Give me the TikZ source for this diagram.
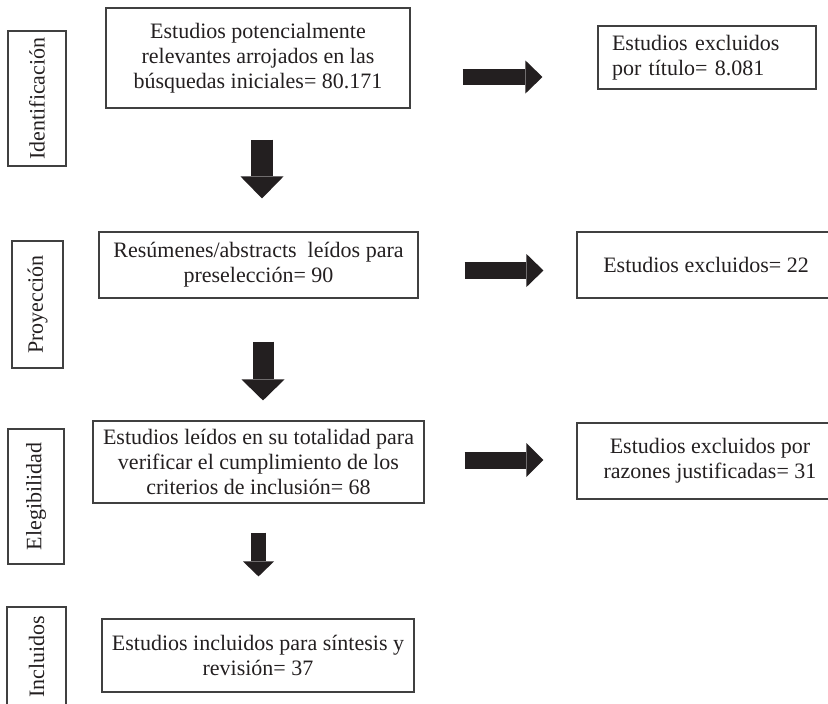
\documentclass[tikz,border=0pt]{standalone}
\usepackage{fontspec}
\setmainfont{Liberation Serif}
\usetikzlibrary{arrows.meta}
\definecolor{ink}{HTML}{231F20}

\begin{document}
\begin{tikzpicture}[
x=1pt, y=-1pt,
box/.style={draw=black!75, line width=1.1pt, align=center, inner sep=0pt, text=ink, font=\fontsize{22}{25}\selectfont},
phase/.style={box, rotate=90},
blockarr/.style n args={3}{ink, line width=#1, -{Triangle[length=#3 0 0, width=#2 0 0, line width=0pt]}}
]
\path[use as bounding box] (0,0) rectangle (828,704);
\clip (0,0) rectangle (828,704);

% phases
\node[phase, minimum width=135pt, minimum height=58pt] (ident) at (37,98.5) {Identificación};
\node[phase, minimum width=127pt, minimum height=51pt] (proy) at (37.5,304.5) {Proyección};
\node[phase, minimum width=135pt, minimum height=56pt] (eleg) at (36,496.5) {Elegibilidad};
\node[phase, minimum width=99pt, minimum height=59pt] (incl) at (36.5,656.5) {Incluidos};

% main flow
\node[box, minimum width=304pt, minimum height=100pt] (busq) at (258,58) {Estudios potencialmente\\relevantes arrojados en las\\búsquedas iniciales= 80.171};
\node[box, minimum width=319pt, minimum height=66pt] (resum) at (258.5,265) {Resúmenes/abstracts\ \ leídos para\\preselección= 90};
\node[box, minimum width=331pt, minimum height=82pt] (leidos) at (258.5,462) {Estudios leídos en su totalidad para\\verificar el cumplimiento de los\\criterios de inclusión= 68};
\node[box, minimum width=312pt, minimum height=73pt] (incluidos) at (258,655.5) {Estudios incluidos para síntesis y\\revisión= 37};

% exclusions
\node[box, align=left, text width=190pt, minimum width=218pt, minimum height=63pt] (exTitulo) at (707,57.5) {Estudios excluidos\\por título= 8.081};
\node[box, minimum width=258pt, minimum height=66pt] (exResum) at (706,265) {Estudios excluidos= 22};
\node[box, minimum width=266pt, minimum height=76pt] (exRazon) at (710,461) {Estudios excluidos por\\razones justificadas= 31};

\draw[blockarr={22pt}{43pt}{22pt}, shorten <=31pt, shorten >=33pt] ([xshift=4pt]busq.south) -- ([xshift=4pt]busq.south |- resum.north);
\draw[blockarr={21pt}{43pt}{21pt}, shorten <=43pt, shorten >=20pt] ([xshift=4.5pt]resum.south) -- ([xshift=4.5pt]resum.south |- leidos.north);
\draw[blockarr={15pt}{31pt}{15pt}, shorten <=29pt, shorten >=42pt] (leidos.south) -- (leidos.south |- incluidos.north);

\draw[blockarr={16pt}{33pt}{17pt}, shorten <=52pt, shorten >=55pt] ([yshift=-19pt]busq.east) -- ([yshift=-19pt]busq.east -| exTitulo.west);
\draw[blockarr={17pt}{33pt}{17pt}, shorten <=46pt, shorten >=33pt] ([yshift=-5.5pt]resum.east) -- ([yshift=-5.5pt]resum.east -| exResum.west);
\draw[blockarr={17pt}{34pt}{17pt}, shorten <=40pt, shorten >=33pt] ([yshift=2pt]leidos.east) -- ([yshift=2pt]leidos.east -| exRazon.west);
\end{tikzpicture}
\end{document}
